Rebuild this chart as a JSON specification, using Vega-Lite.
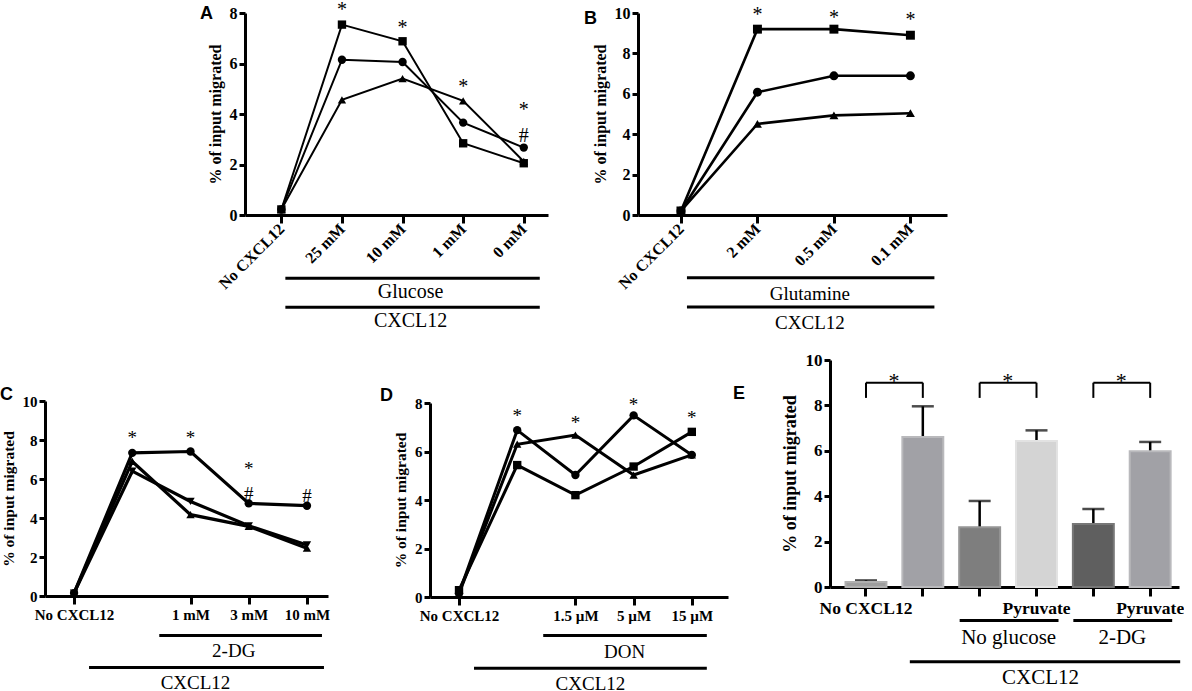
{
  "$schema": "https://vega.github.io/schema/vega-lite/v6.json",
  "padding": 0,
  "background": "white",
  "config": {
    "view": {"stroke": null},
    "axis": {
      "grid": false,
      "domainColor": "black",
      "domainWidth": 3,
      "tickColor": "black",
      "tickWidth": 3,
      "labelColor": "black",
      "labelFont": "Liberation Serif",
      "labelFontWeight": "bold",
      "titleColor": "black",
      "titleFont": "Liberation Serif",
      "titleFontWeight": "bold"
    },
    "axisY": {"tickSize": 6, "labelFontSize": 16, "titleFontSize": 16, "titlePadding": 6, "labelPadding": 2},
    "axisX": {"tickSize": 8, "labelFontSize": 16, "labelPadding": 3},
    "title": {"font": "Liberation Sans", "fontSize": 18, "fontWeight": "bold", "color": "black", "anchor": "start", "frame": "group"},
    "text": {"font": "Liberation Serif", "color": "black"},
    "line": {"color": "black"},
    "rule": {"color": "black"},
    "point": {"color": "black"}
  },
  "datasets": {
    "glucose": [
      {"cond": "No CXCL12", "series": "a", "value": 0.22},
      {"cond": "No CXCL12", "series": "b", "value": 0.22},
      {"cond": "No CXCL12", "series": "c", "value": 0.22},
      {"cond": "25 mM", "series": "a", "value": 7.54},
      {"cond": "25 mM", "series": "b", "value": 6.15},
      {"cond": "25 mM", "series": "c", "value": 4.56},
      {"cond": "10 mM", "series": "a", "value": 6.88},
      {"cond": "10 mM", "series": "b", "value": 6.06},
      {"cond": "10 mM", "series": "c", "value": 5.4},
      {"cond": "1 mM", "series": "a", "value": 2.84},
      {"cond": "1 mM", "series": "b", "value": 3.66},
      {"cond": "1 mM", "series": "c", "value": 4.52},
      {"cond": "0 mM", "series": "a", "value": 2.05},
      {"cond": "0 mM", "series": "b", "value": 2.67},
      {"cond": "0 mM", "series": "c", "value": 2.12}
    ],
    "glucose_sig": [
      {"cond": "25 mM", "value": 8.27, "sym": "*"},
      {"cond": "10 mM", "value": 7.58, "sym": "*"},
      {"cond": "1 mM", "value": 5.23, "sym": "*"},
      {"cond": "0 mM", "value": 4.3, "sym": "*"},
      {"cond": "0 mM", "value": 3.3, "sym": "#"}
    ],
    "glucose_groups": [
      {"cond": "No CXCL12", "end": "0 mM", "value": -2.5},
      {"cond": "No CXCL12", "end": "0 mM", "value": -3.65}
    ],
    "glucose_group_labels": [
      {"cond": "10 mM", "value": -2.5, "label": "Glucose"},
      {"cond": "10 mM", "value": -3.65, "label": "CXCL12"}
    ],
    "glutamine": [
      {"cond": "No CXCL12", "series": "a", "value": 0.2},
      {"cond": "No CXCL12", "series": "b", "value": 0.2},
      {"cond": "No CXCL12", "series": "c", "value": 0.2},
      {"cond": "2 mM", "series": "a", "value": 9.2},
      {"cond": "2 mM", "series": "b", "value": 6.08},
      {"cond": "2 mM", "series": "c", "value": 4.51},
      {"cond": "0.5 mM", "series": "a", "value": 9.2},
      {"cond": "0.5 mM", "series": "b", "value": 6.89},
      {"cond": "0.5 mM", "series": "c", "value": 4.93},
      {"cond": "0.1 mM", "series": "a", "value": 8.9},
      {"cond": "0.1 mM", "series": "b", "value": 6.89},
      {"cond": "0.1 mM", "series": "c", "value": 5.04}
    ],
    "glutamine_sig": [
      {"cond": "2 mM", "value": 10.08, "sym": "*"},
      {"cond": "0.5 mM", "value": 9.97, "sym": "*"},
      {"cond": "0.1 mM", "value": 9.83, "sym": "*"}
    ],
    "glutamine_groups": [
      {"cond": "No CXCL12", "end": "0.1 mM", "value": -3.11},
      {"cond": "No CXCL12", "end": "0.1 mM", "value": -4.55}
    ],
    "glutamine_group_labels": [
      {"cond": "0.5 mM", "value": -3.11, "label": "Glutamine"},
      {"cond": "0.5 mM", "value": -4.55, "label": "CXCL12"}
    ],
    "dg": [
      {"cond": "No CXCL12", "series": "a", "value": 0.15},
      {"cond": "No CXCL12", "series": "b", "value": 0.15},
      {"cond": "No CXCL12", "series": "c", "value": 0.15},
      {"cond": "CXCL12", "series": "a", "value": 7.34},
      {"cond": "CXCL12", "series": "b", "value": 6.9},
      {"cond": "CXCL12", "series": "c", "value": 6.4},
      {"cond": "1 mM", "series": "a", "value": 7.41},
      {"cond": "1 mM", "series": "b", "value": 4.17},
      {"cond": "1 mM", "series": "c", "value": 4.85},
      {"cond": "3 mM", "series": "a", "value": 4.75},
      {"cond": "3 mM", "series": "b", "value": 3.57},
      {"cond": "3 mM", "series": "c", "value": 3.6},
      {"cond": "10 mM", "series": "a", "value": 4.63},
      {"cond": "10 mM", "series": "b", "value": 2.45},
      {"cond": "10 mM", "series": "c", "value": 2.62}
    ],
    "dg_sig": [
      {"cond": "CXCL12", "value": 8.32, "sym": "*"},
      {"cond": "1 mM", "value": 8.32, "sym": "*"},
      {"cond": "3 mM", "value": 6.72, "sym": "*"},
      {"cond": "3 mM", "value": 5.45, "sym": "#"},
      {"cond": "10 mM", "value": 5.32, "sym": "#"}
    ],
    "dg_group_drug": [{"cond": "CXCL12", "end": "10 mM", "value": -2.02}],
    "dg_group_cxcl12": [{"cond": "No CXCL12", "end": "10 mM", "value": -3.67}],
    "dg_label_drug": [{"cond": "3 mM", "value": -2.02, "label": "2-DG"}],
    "dg_label_cxcl12": [{"cond": "1 mM", "value": -3.67, "label": "CXCL12"}],
    "don": [
      {"cond": "No CXCL12", "series": "a", "value": 0.15},
      {"cond": "No CXCL12", "series": "b", "value": 0.15},
      {"cond": "No CXCL12", "series": "c", "value": 0.28},
      {"cond": "CXCL12", "series": "a", "value": 6.88},
      {"cond": "CXCL12", "series": "b", "value": 6.3},
      {"cond": "CXCL12", "series": "c", "value": 5.44},
      {"cond": "1.5 µM", "series": "a", "value": 5.03},
      {"cond": "1.5 µM", "series": "b", "value": 6.68},
      {"cond": "1.5 µM", "series": "c", "value": 4.2},
      {"cond": "5 µM", "series": "a", "value": 7.49},
      {"cond": "5 µM", "series": "b", "value": 5.03},
      {"cond": "5 µM", "series": "c", "value": 5.38},
      {"cond": "15 µM", "series": "a", "value": 5.86},
      {"cond": "15 µM", "series": "b", "value": 5.86},
      {"cond": "15 µM", "series": "c", "value": 6.81}
    ],
    "don_sig": [
      {"cond": "CXCL12", "value": 7.63, "sym": "*"},
      {"cond": "1.5 µM", "value": 7.36, "sym": "*"},
      {"cond": "5 µM", "value": 8.08, "sym": "*"},
      {"cond": "15 µM", "value": 7.56, "sym": "*"}
    ],
    "don_group_drug": [{"cond": "CXCL12", "end": "15 µM", "value": -1.59}],
    "don_group_cxcl12": [{"cond": "No CXCL12", "end": "15 µM", "value": -2.94}],
    "don_label_drug": [{"cond": "5 µM", "value": -1.59, "label": "DON"}],
    "don_label_cxcl12": [{"cond": "1.5 µM", "value": -2.94, "label": "CXCL12"}],
    "pyruvate": [
      {"cond": "No CXCL12", "mean": 0.22, "hi": 0.29},
      {"cond": "CXCL12", "mean": 6.61, "hi": 7.96},
      {"cond": "No glucose", "mean": 2.63, "hi": 3.79},
      {"cond": "No glucose + Pyruvate", "mean": 6.43, "hi": 6.9},
      {"cond": "2-DG", "mean": 2.78, "hi": 3.44},
      {"cond": "2-DG + Pyruvate", "mean": 5.98, "hi": 6.39}
    ],
    "pyruvate_brackets": [
      {"cond": "No CXCL12", "end": "CXCL12", "mean": 9.0},
      {"cond": "No glucose", "end": "No glucose + Pyruvate", "mean": 9.0},
      {"cond": "2-DG", "end": "2-DG + Pyruvate", "mean": 9.0}
    ],
    "pyruvate_bracket_legs": [
      {"cond": "No CXCL12", "mean": 8.33, "top": 9.0},
      {"cond": "CXCL12", "mean": 8.33, "top": 9.0},
      {"cond": "No glucose", "mean": 8.33, "top": 9.0},
      {"cond": "No glucose + Pyruvate", "mean": 8.33, "top": 9.0},
      {"cond": "2-DG", "mean": 8.33, "top": 9.0},
      {"cond": "2-DG + Pyruvate", "mean": 8.33, "top": 9.0}
    ],
    "pyruvate_sig": [
      {"cond": "No CXCL12", "mean": 9.3, "sym": "*"},
      {"cond": "No glucose", "mean": 9.3, "sym": "*"},
      {"cond": "2-DG", "mean": 9.3, "sym": "*"}
    ],
    "pyruvate_group_drug": [
      {"cond": "No glucose", "end": "No glucose + Pyruvate", "mean": -1.48},
      {"cond": "2-DG", "end": "2-DG + Pyruvate", "mean": -1.48}
    ],
    "pyruvate_label_drug": [
      {"cond": "No glucose", "mean": -1.48, "label": "No glucose"},
      {"cond": "2-DG", "mean": -1.48, "label": "2-DG"}
    ],
    "pyruvate_group_cxcl12": [{"cond": "CXCL12", "end": "2-DG + Pyruvate", "mean": -3.29}],
    "pyruvate_label_cxcl12": [{"cond": "No glucose + Pyruvate", "mean": -3.29, "label": "CXCL12"}],
    "blank": [{"label": ""}]
  },
  "resolve": {"scale": {"shape": "independent", "fill": "independent", "stroke": "independent"}},
  "spacing": 18,
  "vconcat": [
    {
      "bounds": "flush",
      "spacing": 90,
      "resolve": {"scale": {"shape": "independent", "fill": "independent", "stroke": "independent"}},
      "hconcat": [
        {"width": 110, "height": 202, "data": {"name": "blank"}, "mark": "text", "encoding": {"text": {"field": "label"}}},
        {
          "width": 303,
          "height": 202,
          "title": {"text": "A", "dx": -45, "dy": 27},
          "data": {"name": "glucose"},
          "encoding": {
            "x": {"field": "cond", "type": "nominal", "title": null,
              "scale": {"type": "point", "domain": ["No CXCL12", "25 mM", "10 mM", "1 mM", "0 mM"], "padding": 0.5, "align": 0.6},
              "axis": {"labelAngle": -45, "labelAlign": "right", "labelBaseline": "middle"}},
            "y": {"field": "value", "type": "quantitative", "title": "% of input migrated",
              "scale": {"domain": [0, 8], "nice": false},
              "axis": {"values": [0, 2, 4, 6, 8]}}
          },
          "layer": [
            {"mark": {"type": "line", "strokeWidth": 2}, "encoding": {"detail": {"field": "series"}}},
            {"mark": {"type": "point", "filled": true, "opacity": 1, "size": 70},
              "encoding": {"shape": {"field": "series", "scale": {"domain": ["a", "b", "c"], "range": ["square", "circle", "triangle-up"]}, "legend": null}}},
            {"data": {"name": "glucose_sig"}, "mark": {"type": "text", "font": "Liberation Serif", "fontSize": 20, "baseline": "middle", "dy": 4},
              "encoding": {"text": {"field": "sym"}}},
            {"data": {"name": "glucose_groups"}, "mark": {"type": "rule", "strokeWidth": 3, "xOffset": 4, "x2Offset": 16},
              "encoding": {"x2": {"field": "end", "title": null}}},
            {"data": {"name": "glucose_group_labels"}, "mark": {"type": "text", "font": "Liberation Serif", "fontSize": 20, "dx": 8, "dy": 14, "baseline": "middle"},
              "encoding": {"text": {"field": "label"}}}
          ]
        },
        {
          "width": 309,
          "height": 202,
          "title": {"text": "B", "dx": -54, "dy": 27},
          "data": {"name": "glutamine"},
          "encoding": {
            "x": {"field": "cond", "type": "nominal", "title": null,
              "scale": {"type": "point", "domain": ["No CXCL12", "2 mM", "0.5 mM", "0.1 mM"], "padding": 0.52, "align": 0.54},
              "axis": {"labelAngle": -45, "labelAlign": "right", "labelBaseline": "middle"}},
            "y": {"field": "value", "type": "quantitative", "title": "% of input migrated",
              "scale": {"domain": [0, 10], "nice": false},
              "axis": {"values": [0, 2, 4, 6, 8, 10]}}
          },
          "layer": [
            {"mark": {"type": "line", "strokeWidth": 2.6}, "encoding": {"detail": {"field": "series"}}},
            {"mark": {"type": "point", "filled": true, "opacity": 1, "size": 80},
              "encoding": {"shape": {"field": "series", "scale": {"domain": ["a", "b", "c"], "range": ["square", "circle", "triangle-up"]}, "legend": null}}},
            {"data": {"name": "glutamine_sig"}, "mark": {"type": "text", "font": "Liberation Serif", "fontSize": 20, "baseline": "middle", "dy": 4},
              "encoding": {"text": {"field": "sym"}}},
            {"data": {"name": "glutamine_groups"}, "mark": {"type": "rule", "strokeWidth": 3, "xOffset": 6, "x2Offset": 24},
              "encoding": {"x2": {"field": "end", "title": null}}},
            {"data": {"name": "glutamine_group_labels"}, "mark": {"type": "text", "font": "Liberation Serif", "fontSize": 19, "dx": -24, "dy": 16, "baseline": "middle"},
              "encoding": {"text": {"field": "label"}}}
          ]
        }
      ]
    },
    {
      "bounds": "flush",
      "spacing": 102,
      "resolve": {"scale": {"shape": "independent", "fill": "independent", "stroke": "independent"}},
      "hconcat": [
        {
          "width": 283,
          "height": 236,
          "title": {"text": "C", "dx": -45, "dy": 48},
          "data": {"name": "dg"},
          "encoding": {
            "x": {"field": "cond", "type": "nominal", "title": null,
              "scale": {"type": "point", "domain": ["No CXCL12", "CXCL12", "1 mM", "3 mM", "10 mM"], "padding": 0.43, "align": 0.58},
              "axis": {"labelAngle": 0, "values": ["No CXCL12", "1 mM", "3 mM", "10 mM"], "labelFontSize": 15}},
            "y": {"field": "value", "type": "quantitative", "title": "% of input migrated",
              "scale": {"domain": [0, 10], "nice": false, "rangeMax": 41},
              "axis": {"values": [0, 2, 4, 6, 8, 10], "labelFontSize": 15, "titleFontSize": 15.5}}
          },
          "layer": [
            {"mark": {"type": "line", "strokeWidth": 3.2}, "encoding": {"detail": {"field": "series"}}},
            {"mark": {"type": "point", "filled": true, "opacity": 1, "size": 70},
              "encoding": {"shape": {"field": "series", "scale": {"domain": ["a", "b", "c"], "range": ["circle", "triangle-up", "triangle-down"]}, "legend": null}}},
            {"data": {"name": "dg_sig"}, "mark": {"type": "text", "font": "Liberation Serif", "fontSize": 19, "baseline": "middle", "dy": 4},
              "encoding": {"text": {"field": "sym"}}},
            {"data": {"name": "dg_group_drug"}, "mark": {"type": "rule", "strokeWidth": 3, "xOffset": 27, "x2Offset": 15},
              "encoding": {"x2": {"field": "end", "title": null}}},
            {"data": {"name": "dg_group_cxcl12"}, "mark": {"type": "rule", "strokeWidth": 3, "xOffset": 15, "x2Offset": 17},
              "encoding": {"x2": {"field": "end", "title": null}}},
            {"data": {"name": "dg_label_drug"}, "mark": {"type": "text", "font": "Liberation Serif", "fontSize": 19, "dx": -15, "dy": 16, "baseline": "middle"},
              "encoding": {"text": {"field": "label"}}},
            {"data": {"name": "dg_label_cxcl12"}, "mark": {"type": "text", "font": "Liberation Serif", "fontSize": 19, "dx": 5, "dy": 15, "baseline": "middle"},
              "encoding": {"text": {"field": "label"}}}
          ]
        },
        {
          "width": 298,
          "height": 237,
          "title": {"text": "D", "dx": -50, "dy": 49},
          "data": {"name": "don"},
          "encoding": {
            "x": {"field": "cond", "type": "nominal", "title": null,
              "scale": {"type": "point", "domain": ["No CXCL12", "CXCL12", "1.5 µM", "5 µM", "15 µM"], "padding": 0.56, "align": 0.445},
              "axis": {"labelAngle": 0, "values": ["No CXCL12", "1.5 µM", "5 µM", "15 µM"], "labelFontSize": 15}},
            "y": {"field": "value", "type": "quantitative", "title": "% of input migrated",
              "scale": {"domain": [0, 8], "nice": false, "rangeMax": 43},
              "axis": {"values": [0, 2, 4, 6, 8], "labelFontSize": 15, "titleFontSize": 15.5}}
          },
          "layer": [
            {"mark": {"type": "line", "strokeWidth": 3}, "encoding": {"detail": {"field": "series"}}},
            {"mark": {"type": "point", "filled": true, "opacity": 1, "size": 70},
              "encoding": {"shape": {"field": "series", "scale": {"domain": ["a", "b", "c"], "range": ["circle", "triangle-up", "square"]}, "legend": null}}},
            {"data": {"name": "don_sig"}, "mark": {"type": "text", "font": "Liberation Serif", "fontSize": 19, "baseline": "middle", "dy": 4},
              "encoding": {"text": {"field": "sym"}}},
            {"data": {"name": "don_group_drug"}, "mark": {"type": "rule", "strokeWidth": 3, "xOffset": 26, "x2Offset": 15},
              "encoding": {"x2": {"field": "end", "title": null}}},
            {"data": {"name": "don_group_cxcl12"}, "mark": {"type": "rule", "strokeWidth": 3, "xOffset": 15, "x2Offset": 15},
              "encoding": {"x2": {"field": "end", "title": null}}},
            {"data": {"name": "don_label_drug"}, "mark": {"type": "text", "font": "Liberation Serif", "fontSize": 19, "dx": -9, "dy": 16, "baseline": "middle"},
              "encoding": {"text": {"field": "label"}}},
            {"data": {"name": "don_label_cxcl12"}, "mark": {"type": "text", "font": "Liberation Serif", "fontSize": 19, "dx": 15, "dy": 16, "baseline": "middle"},
              "encoding": {"text": {"field": "label"}}}
          ]
        },
        {
          "width": 349,
          "height": 227,
          "title": {"text": "E", "dx": -97, "dy": 56},
          "data": {"name": "pyruvate"},
          "encoding": {
            "x": {"field": "cond", "type": "nominal", "title": null,
              "scale": {"type": "band", "domain": ["No CXCL12", "CXCL12", "No glucose", "No glucose + Pyruvate", "2-DG", "2-DG + Pyruvate"], "paddingInner": 0.28, "paddingOuter": 0.21, "align": 0.65},
              "axis": {"labelAngle": 0, "tickSize": 9, "labelFontSize": 17.5,
                "labelExpr": "datum.value == 'No CXCL12' ? 'No CXCL12' : (indexof(datum.value, 'Pyruvate') >= 0 ? 'Pyruvate' : '')"}},
            "y": {"field": "mean", "type": "quantitative", "title": "% of input migrated",
              "scale": {"domain": [0, 10], "nice": false},
              "axis": {"values": [0, 2, 4, 6, 8, 10], "labelFontSize": 17, "titleFontSize": 18}}
          },
          "layer": [
            {"mark": {"type": "rule", "strokeWidth": 2.5},
              "encoding": {"y2": {"field": "hi"}}},
            {"mark": {"type": "tick", "thickness": 2.5, "size": 22, "color": "black", "orient": "horizontal"},
              "encoding": {"y": {"field": "hi", "type": "quantitative", "title": "% of input migrated"}}},
            {"mark": {"type": "bar", "strokeWidth": 2},
              "encoding": {
                "fill": {"field": "cond", "type": "nominal", "legend": null,
                  "scale": {"domain": ["No CXCL12", "CXCL12", "No glucose", "No glucose + Pyruvate", "2-DG", "2-DG + Pyruvate"],
                    "range": ["#9e9e9e", "#a1a1a6", "#7e7e7e", "#d4d4d4", "#5f5f5f", "#a1a1a6"]}},
                "stroke": {"field": "cond", "type": "nominal", "legend": null,
                  "scale": {"domain": ["No CXCL12", "CXCL12", "No glucose", "No glucose + Pyruvate", "2-DG", "2-DG + Pyruvate"],
                    "range": ["#b0b0b0", "#b9b9bc", "#959595", "#e2e2e2", "#777777", "#b9b9bc"]}}
              }},
            {"data": {"name": "pyruvate_brackets"}, "mark": {"type": "rule", "strokeWidth": 2},
              "encoding": {"x2": {"field": "end", "title": null}}},
            {"data": {"name": "pyruvate_bracket_legs"}, "mark": {"type": "rule", "strokeWidth": 2},
              "encoding": {"y2": {"field": "top"}}},
            {"data": {"name": "pyruvate_sig"}, "mark": {"type": "text", "font": "Liberation Serif", "fontSize": 22, "dx": 28, "dy": 5, "baseline": "middle"},
              "encoding": {"text": {"field": "sym"}}},
            {"data": {"name": "pyruvate_group_drug"}, "mark": {"type": "rule", "strokeWidth": 3, "xOffset": -20, "x2Offset": 22},
              "encoding": {"x2": {"field": "end", "title": null}}},
            {"data": {"name": "pyruvate_label_drug"}, "mark": {"type": "text", "font": "Liberation Serif", "fontSize": 21, "dx": 29, "dy": 17, "baseline": "middle"},
              "encoding": {"text": {"field": "label"}}},
            {"data": {"name": "pyruvate_group_cxcl12"}, "mark": {"type": "rule", "strokeWidth": 3, "xOffset": -13, "x2Offset": 30},
              "encoding": {"x2": {"field": "end", "title": null}}},
            {"data": {"name": "pyruvate_label_cxcl12"}, "mark": {"type": "text", "font": "Liberation Serif", "fontSize": 21, "dx": 4, "dy": 16, "baseline": "middle"},
              "encoding": {"text": {"field": "label"}}}
          ]
        }
      ]
    }
  ]
}
